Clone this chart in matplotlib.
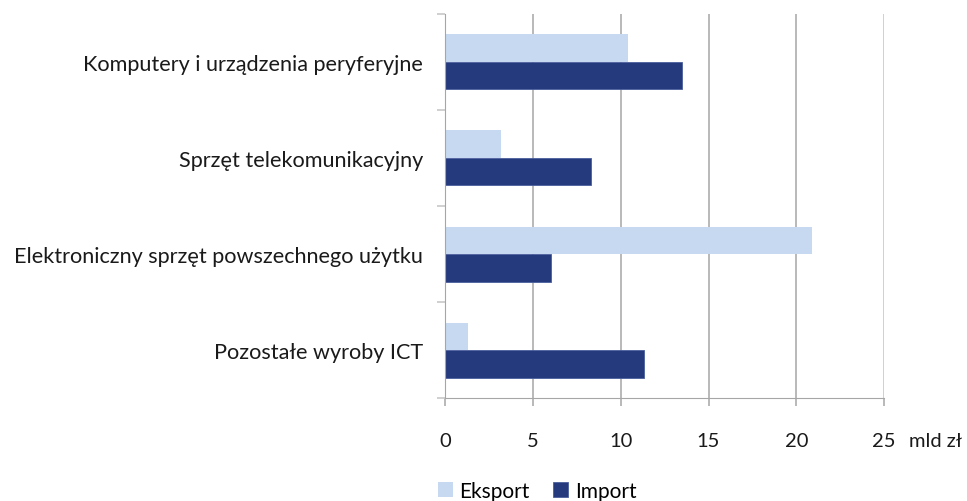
import numpy as np
import matplotlib
matplotlib.use('Agg')
import matplotlib.pyplot as plt

# dane (mld zł)
categories = ['Komputery i urządzenia peryferyjne',
              'Sprzęt telekomunikacyjny',
              'Elektroniczny sprzęt powszechnego użytku',
              'Pozostałe wyroby ICT']
eksport = [10.4, 3.2, 20.9, 1.3]
import_ = [13.5, 8.3, 6.0, 11.3]
x_ticks = [0, 5, 10, 15, 20, 25]

plt.rcParams['font.family'] = ['Lato', 'DejaVu Sans']

fig = plt.figure(figsize=(9.67, 5.02), dpi=100)
ax = fig.add_axes([0.4605, 0.2046, 0.9142 - 0.4605, 0.9707 - 0.2046])

y = np.arange(len(categories))
h = 0.286
ax.barh(y - h / 2, eksport, height=h, color='#C6D9F1', label='Eksport', zorder=3)
ax.barh(y + h / 2, import_, height=h, color='#253A7C', edgecolor='#4A5E9C',
        linewidth=0.6, label='Import', zorder=3)

ax.set_xlim(0, 25)
ax.set_ylim(len(categories) - 0.5, -0.5)
ax.set_xticks(x_ticks)
ax.set_xticklabels([str(v) for v in x_ticks])
ax.set_yticks(y)
ax.set_yticklabels(categories)
ax.set_yticks(np.arange(len(categories) + 1) - 0.5, minor=True)

# siatka
ax.grid(axis='x', color='#A6A6A6', linewidth=1.1, zorder=0)
ax.get_xgridlines()[-1].set_color('#D0D0D0')
ax.get_xgridlines()[-1].set_linewidth(1.4)

# osie
for s in ['top', 'right']:
    ax.spines[s].set_visible(False)
ax.spines['left'].set_color('#A6A6A6')
ax.spines['bottom'].set_color('#A6A6A6')
ax.spines['left'].set_zorder(4)
ax.tick_params(axis='y', which='major', length=0, pad=16, labelsize=15.6, colors='#1A1A1A')
ax.tick_params(axis='y', which='minor', length=6, color='#C8C8C8', width=1.2)
ax.tick_params(axis='x', which='major', length=6, color='#A6A6A6', width=1.1,
               pad=18, labelsize=14.5, labelcolor='#1A1A1A')

ax.annotate('mld zł', xy=(1, 0), xycoords='axes fraction', xytext=(18, -24),
            textcoords='offset points', ha='left', va='top', fontsize=14.5,
            color='#1A1A1A', annotation_clip=False)

fig.legend(loc='center', bbox_to_anchor=(537 / 967, 1 - 492 / 502), ncol=2,
           frameon=False, fontsize=15, handlelength=0.75, handleheight=0.75,
           handletextpad=0.3, columnspacing=1.1)

fig.savefig('out.png', dpi=100)
